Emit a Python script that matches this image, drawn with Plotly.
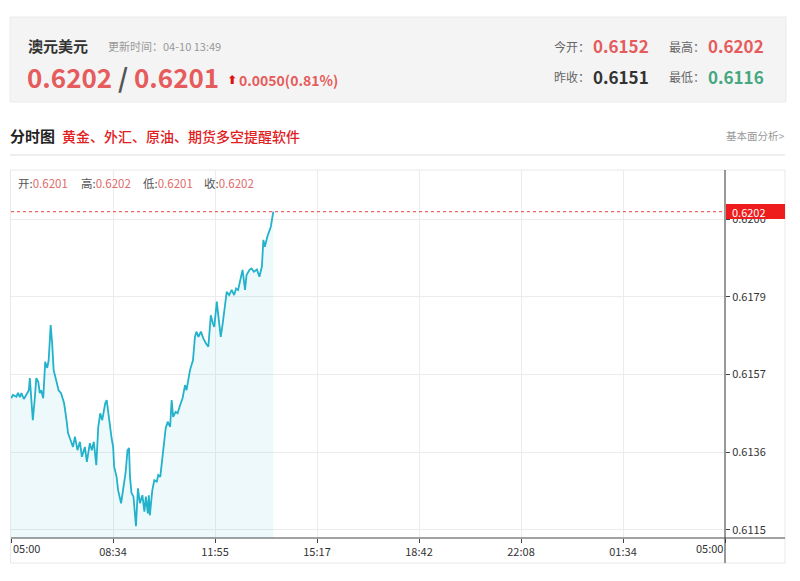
import plotly.graph_objects as go
import pandas as pd

# ---------------- data ----------------
day = "2025-04-10"
times = ["05:00","05:04","05:11","05:14","05:18","05:21","05:26","05:31","05:36","05:38",
         "05:41","05:44","05:48","05:51","05:55","05:58","06:01","06:05","06:09","06:13",
         "06:16","06:20","06:23","06:26","06:31","06:36","06:41","06:47","06:52","06:55",
         "07:00","07:05","07:09","07:14","07:19","07:23","07:29","07:33","07:39","07:43",
         "07:47","07:52","07:56","08:00","08:04","08:10","08:13","08:16","08:20","08:23",
         "08:26","08:28","08:33","08:36","08:42","08:47","08:51","08:55","08:58","09:00",
         "09:03","09:07","09:12","09:16","09:20","09:25","09:29","09:32","09:36","09:38",
         "09:40","09:45","09:49","09:54","09:57","10:01","10:04","10:09","10:12","10:16",
         "10:21","10:24","10:27","10:32","10:36","10:41","10:46","10:51","10:54","11:01",
         "11:07","11:11","11:14","11:18","11:23","11:28","11:33","11:38","11:43","11:47",
         "11:50","11:55","11:58","12:03","12:07","12:12","12:15","12:20","12:25","12:30",
         "12:34","12:38","12:43","12:47","12:52","12:55","13:01","13:05","13:10","13:16",
         "13:21","13:26","13:29","13:32","13:37","13:41","13:44","13:49"]
prices = [0.61510,0.61519,0.61514,0.61525,0.61513,0.61524,0.61508,0.61519,0.61532,0.61565,
          0.61514,0.61450,0.61510,0.61565,0.61555,0.61524,0.61532,0.61510,0.61610,0.61593,
          0.61614,0.61710,0.61661,0.61587,0.61560,0.61532,0.61524,0.61497,0.61450,0.61415,
          0.61396,0.61377,0.61405,0.61368,0.61391,0.61350,0.61377,0.61336,0.61387,0.61368,
          0.61391,0.61327,0.61432,0.61469,0.61450,0.61496,0.61505,0.61473,0.61423,0.61400,
          0.61377,0.61323,0.61295,0.61259,0.61223,0.61268,0.61305,0.61368,0.61374,0.61295,
          0.61251,0.61241,0.61160,0.61264,0.61223,0.61245,0.61200,0.61241,0.61195,0.61245,
          0.61190,0.61259,0.61286,0.61282,0.61300,0.61295,0.61332,0.61377,0.61428,0.61446,
          0.61432,0.61505,0.61459,0.61473,0.61469,0.61491,0.61510,0.61546,0.61532,0.61587,
          0.61614,0.61678,0.61692,0.61678,0.61692,0.61674,0.61660,0.61651,0.61737,0.61715,
          0.61705,0.61774,0.61733,0.61678,0.61715,0.61778,0.61801,0.61792,0.61806,0.61792,
          0.61810,0.61806,0.61833,0.61861,0.61806,0.61847,0.61861,0.61865,0.61856,0.61862,
          0.61842,0.61870,0.61943,0.61924,0.61952,0.61965,0.61979,0.62020]

x_labels = ["05:00", "08:34", "11:55", "15:17", "18:42", "22:08", "01:34", "05:00"]
y_tick_values = [0.6115, 0.613625, 0.61575, 0.617875, 0.6200]
y_tick_labels = ["0.6115", "0.6136", "0.6157", "0.6179", "0.6200"]
y_range = [0.61128, 0.62134]
last_price = 0.6202

title_name = "澳元美元"
update_time = "更新时间：04-10 13:49"
bid, ask = "0.6202", "0.6201"
change_text = "0.0050(0.81%)"
stats_labels = ["今开：", "最高：", "昨收：", "最低："]
stats_values = ["0.6152", "0.6202", "0.6151", "0.6116"]
ohlc_labels = ["开:", "高:", "低:", "收:"]
ohlc_values = ["0.6201", "0.6202", "0.6201", "0.6202"]

# ---------------- styles ----------------
CJK = "Noto Sans CJK SC"
RED = "#e65c5c"
GREEN = "#45a77e"
DARK = "#333333"
GRAY = "#999999"
LINE = "#22b2cb"

OFF = 8                     # page body margin in the browser
W, H = 800 - OFF, 581 - OFF
L, R, T, B = 11, 725, 170, 538   # plot area in page pixels


def X(px):
    return (px - L) / (R - L)


def Y(py):
    return (B - py) / (B - T)


x_dt = pd.to_datetime([f"{day} {t}" for t in times])
start = pd.Timestamp(f"{day} 05:00")
end = start + pd.Timedelta(days=1)
x_ticks = pd.date_range(start, end, periods=len(x_labels))

fig = go.Figure()
fig.add_trace(go.Scatter(
    x=x_dt, y=prices, mode="lines",
    line=dict(color=LINE, width=1.8),
    fill="tozeroy", fillcolor="rgba(40,180,210,0.08)",
    hoverinfo="skip", showlegend=False,
))

shapes = [
    # header box
    dict(type="rect", xref="paper", yref="paper", x0=X(10), x1=X(786), y0=Y(17), y1=Y(102),
         fillcolor="#f4f4f4", line=dict(color="#ebebeb", width=1), layer="below"),
    # separator
    dict(type="line", xref="paper", yref="paper", x0=X(10), x1=X(785), y0=Y(155), y1=Y(155),
         line=dict(color="#dddddd", width=1)),
    # chart box
    dict(type="rect", xref="paper", yref="paper", x0=X(10.5), x1=X(785), y0=Y(170), y1=Y(563),
         line=dict(color="#e8e8e8", width=1), layer="below"),
    # y axis line
    dict(type="line", xref="paper", yref="paper", x0=1, x1=1, y0=Y(170), y1=Y(563),
         line=dict(color="#333333", width=1)),
    # x axis line
    dict(type="line", xref="paper", yref="paper", x0=0, x1=X(785), y0=0, y1=0,
         line=dict(color="#444444", width=1)),
    # last price dotted line
    dict(type="line", xref="paper", yref="y", x0=0, x1=1, y0=last_price, y1=last_price,
         line=dict(color="#e8403a", width=1, dash="dot")),
    # last price red label
    dict(type="rect", xref="paper", yref="paper", x0=X(726), x1=X(785), y0=Y(204), y1=Y(219),
         fillcolor="#ee1c1c", line=dict(width=0), layer="above"),
]

ann = []


def txt(x, y, text, size, color, anchor="left", weight="normal", family=CJK):
    ann.append(dict(xref="paper", yref="paper", x=X(x), y=Y(y), text=text, showarrow=False,
                    xanchor=anchor, yanchor="middle",
                    font=dict(size=size, color=color, family=family, weight=weight)))


# header
txt(26, 45, title_name, 15, DARK, weight="bold")
txt(106, 46, update_time, 11, GRAY)
txt(25, 77, f'{bid} <span style="color:#555555">/</span> {ask}', 26, RED, weight="bold")
txt(225, 80, "⬆", 12, "#e01010", family="DejaVu Sans", weight="bold")
txt(237, 80, change_text, 14, RED, weight=600)
txt(552, 46, stats_labels[0], 12, "#666666")
txt(591, 45, stats_values[0], 17, RED, weight="bold")
txt(667, 46, stats_labels[1], 12, "#666666")
txt(706, 45, stats_values[1], 17, RED, weight="bold")
txt(552, 77, stats_labels[2], 12, "#666666")
txt(591, 76, stats_values[2], 17, DARK, weight="bold")
txt(667, 77, stats_labels[3], 12, "#666666")
txt(706, 76, stats_values[3], 17, GREEN, weight="bold")

# subtitle
txt(8, 136, "分时图", 15, "#222222", weight="bold")
txt(60, 136, "黄金、外汇、原油、期货多空提醒软件", 14, "#e0201e", weight=500)
txt(787, 136, "基本面分析>", 10.5, GRAY, anchor="right")

# ohlc row
ohlc_x = [16, 79, 141, 202]
for xx, lab, val in zip(ohlc_x, ohlc_labels, ohlc_values):
    txt(xx, 183, f'<span style="color:#555555">{lab}</span>{val}', 11.5, "#e06a6a")

# last price label text
txt(730, 211.5, f"{last_price:.4f}", 11, "white")

# first/last x labels (aligned inside the plot edges)
ann.append(dict(xref="x", yref="paper", x=x_ticks[0], y=Y(548), text=x_labels[0], showarrow=False,
                xanchor="left", yanchor="middle", font=dict(size=11, color=DARK, family=CJK)))
ann.append(dict(xref="x", yref="paper", x=x_ticks[-1], y=Y(548), text=x_labels[-1], showarrow=False,
                xanchor="right", yanchor="middle", font=dict(size=11, color=DARK, family=CJK)))

x_ticktext = [""] + x_labels[1:-1] + [""]

fig.update_layout(
    width=W, height=H,
    margin=dict(l=L - OFF, r=W - (R - OFF), t=T - OFF, b=H - (B - OFF), pad=0),
    paper_bgcolor="white", plot_bgcolor="white",
    shapes=shapes, annotations=ann,
    showlegend=False, hovermode=False,
    xaxis=dict(
        type="date", range=[start, end],
        tickvals=x_ticks, ticktext=x_ticktext,
        showgrid=True, gridcolor="#ececec", gridwidth=1,
        ticks="outside", ticklen=4, tickcolor="#444444",
        showline=False, zeroline=False,
        tickfont=dict(size=11, color=DARK, family=CJK),
        fixedrange=True,
    ),
    yaxis=dict(
        side="right", range=y_range,
        tickvals=y_tick_values, ticktext=y_tick_labels,
        showgrid=True, gridcolor="#ececec", gridwidth=1,
        ticks="outside", ticklen=4, tickcolor="#444444",
        showline=False, zeroline=False,
        tickfont=dict(size=11, color=DARK, family=CJK),
        fixedrange=True,
    ),
)

fig.write_html("out.html")
